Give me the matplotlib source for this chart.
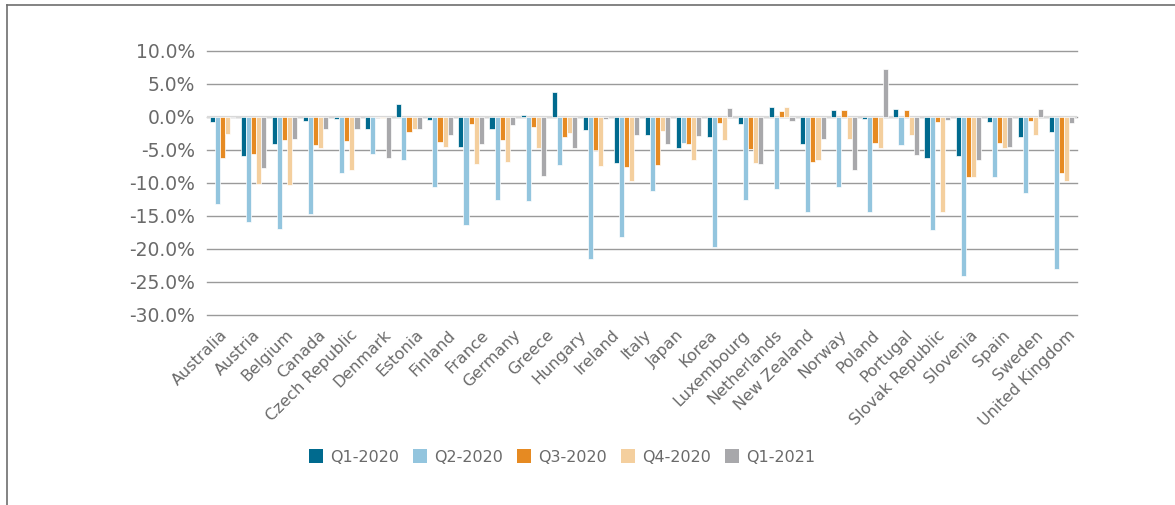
import numpy as np
import matplotlib
matplotlib.use("Agg")
import matplotlib.pyplot as plt
from matplotlib.lines import Line2D
from matplotlib.patches import Patch
import matplotlib.transforms as mtransforms

# ---- data -------------------------------------------------------------
tick_labels = ["Australia", "Austria", "Belgium", "Canada", "Czech Republic",
               "Denmark", "Estonia", "Finland", "France", "Germany", "Greece",
               "Hungary", "Ireland", "Italy", "Japan", "Korea", "Luxembourg",
               "Netherlands", "New Zealand", "Norway", "Poland", "Portugal",
               "Slovak Republic", "Slovenia", "Spain", "Sweden", "United Kingdom"]

series_names = ["Q1-2020", "Q2-2020", "Q3-2020", "Q4-2020", "Q1-2021"]

q1_2020 = [-0.8, -5.9, -4.1, -0.6, -0.3, -1.8, 1.9, -0.45, -4.6, -1.9, 0.2, 3.7,
           -2.0, -7.0, -2.8, -4.7, -3.1, -1.05, 1.4, -4.1, 1.0, -0.3, 1.1, -6.3,
           -5.9, -0.75, -3.1, -2.3]
q2_2020 = [-13.2, -16.0, -17.0, -14.7, -8.5, -5.7, -6.6, -10.6, -16.4, -12.6,
           -12.8, -7.3, -21.6, -18.2, -11.3, -4.0, -19.8, -12.6, -11.0, -14.4,
           -10.6, -14.4, -4.3, -17.2, -24.2, -9.1, -11.5, -23.0]
q3_2020 = [-6.3, -5.6, -3.5, -4.3, -3.7, 0.0, -2.3, -3.8, -1.1, -3.5, -1.6, -3.1,
           -5.1, -7.6, -7.3, -4.2, -0.9, -4.95, 0.8, -6.8, 1.0, -4.0, 1.0, -0.75,
           -9.1, -4.0, -0.7, -8.5]
q4_2020 = [-2.6, -10.2, -10.4, -4.7, -8.1, -0.2, -1.8, -4.6, -7.1, -6.8, -4.7,
           -2.5, -7.5, -9.8, -2.2, -6.5, -3.5, -7.0, 1.4, -6.5, -3.4, -4.7, -2.8,
           -14.4, -9.2, -4.7, -2.7, -9.7]
q1_2021 = [-0.2, -7.8, -3.4, -1.9, -1.8, -6.2, -1.9, -2.8, -4.1, -1.2, -9.0, -4.8,
           -0.35, -2.7, -4.2, -2.9, 1.25, -7.2, -0.6, -3.4, -8.1, 7.2, -5.8, -0.45,
           -6.6, -4.6, 1.1, -1.0]

y_ticks = [10, 5, 0, -5, -10, -15, -20, -25, -30]

colors = ["#006a8e", "#93c5de", "#e68a22", "#f4cf9e", "#a8a8ab"]
text_color = "#6a6a6a"

# ---- figure -----------------------------------------------------------
W, H = 1175, 505
fig = plt.figure(figsize=(W / 100, H / 100), dpi=100)
ax = fig.add_axes([207 / W, 1 - 314.7 / H, 870 / W, (314.7 - 50.7) / H])

all_series = [q1_2020, q2_2020, q3_2020, q4_2020, q1_2021]
n_groups = len(q1_2020)
x = np.arange(n_groups)
slot = 0.164
for i, (vals, col, name) in enumerate(zip(all_series, colors, series_names)):
    ax.bar(x + (i - 2) * slot, vals, width=slot, color=col,
           edgecolor="white", linewidth=0.5, label=name, zorder=3)

ax.set_xlim(-0.5, n_groups - 0.5)
ax.set_ylim(-30, 10)
ax.set_yticks(y_ticks)
ax.set_yticklabels([f"{v:.1f}%" for v in y_ticks])
ax.tick_params(axis="y", length=0, pad=8.5, labelsize=13.5, labelcolor=text_color)

# category labels spread across the axis width
n_lab = len(tick_labels)
lab_pos = -0.5 + (np.arange(n_lab) + 0.5) * n_groups / n_lab * 1.012
ax.set_xticks(lab_pos)
ax.set_xticklabels(tick_labels, rotation=45, ha="right", rotation_mode="anchor")
ax.tick_params(axis="x", length=0, pad=9, labelsize=11.5, labelcolor=text_color)
offset = mtransforms.ScaledTranslation(-0.035, 0, fig.dpi_scale_trans)
for lab in ax.get_xticklabels():
    lab.set_transform(lab.get_transform() + offset)

ax.yaxis.grid(True, color="#9a9a9a", linewidth=1.0, zorder=0)
for gl in ax.get_ygridlines():
    gl.set_clip_on(False)
ax.axhline(0, color="#d9d9d9", linewidth=1.6, zorder=2)
for s in ax.spines.values():
    s.set_visible(False)

# legend
handles = [Patch(facecolor=c, edgecolor="none") for c in colors]
fig.legend(handles, series_names, loc="center", bbox_to_anchor=(562 / W, 1 - 457 / H),
           ncol=5, frameon=False, fontsize=11.5, handlelength=0.9, handleheight=0.9,
           handletextpad=0.45, columnspacing=0.85, labelcolor=text_color)

# outer frame (left and top edges visible)
fig.add_artist(Line2D([7 / W, 7 / W], [0, 1 - 5 / H], color="#6e6e6e", linewidth=1.2,
                      transform=fig.transFigure))
fig.add_artist(Line2D([7 / W, 1], [1 - 5 / H, 1 - 5 / H], color="#6e6e6e", linewidth=1.2,
                      transform=fig.transFigure))

fig.savefig("out.png", dpi=100)
